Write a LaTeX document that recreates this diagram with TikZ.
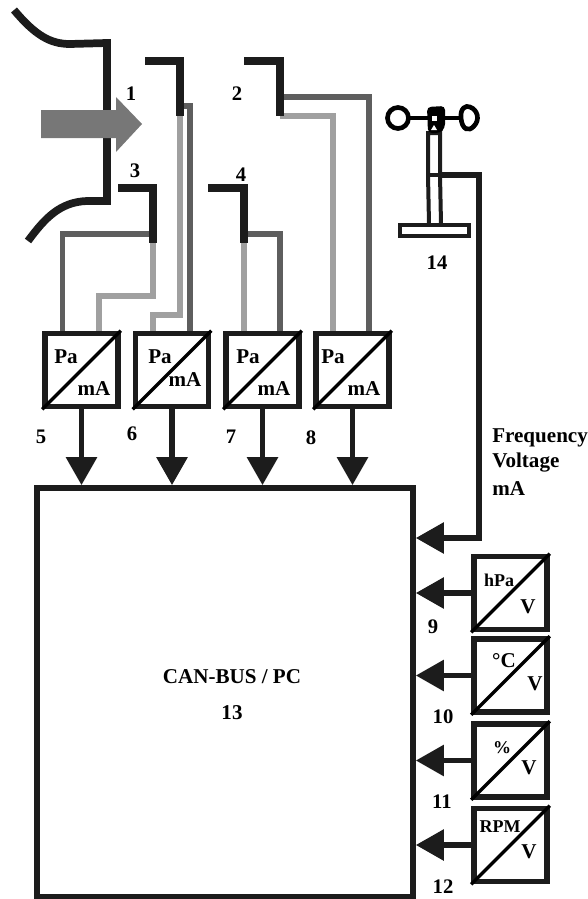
\documentclass[tikz,border=0pt]{standalone}
\usepackage{fontspec}
\setmainfont{Liberation Serif}
\usetikzlibrary{arrows.meta}
\definecolor{bardark}{HTML}{1C1C1C}
\definecolor{tapdark}{HTML}{5E5E5E}
\definecolor{taplight}{HTML}{A0A0A0}
\definecolor{flowgray}{HTML}{777777}
\tikzset{
    conv/.style={draw=bardark, line width=4.2pt, fill=white, rectangle, minimum size=54.75pt, inner sep=0pt},
    diag/.style={draw=black, line width=2.6pt},
    num/.style={font=\fontsize{15.5}{17}\selectfont\bfseries, inner sep=0pt},
    unit/.style={font=\fontsize{15.8}{18}\selectfont\bfseries, inner sep=0pt},
    smallunit/.style={font=\fontsize{13.5}{15}\selectfont\bfseries, inner sep=0pt},
    bar/.style={draw=bardark, line width=5.6pt},
    tapd/.style={draw=tapdark, line width=3.8pt},
    tapl/.style={draw=taplight, line width=3.8pt},
    sig/.style={draw=bardark, line width=4.2pt, -{Triangle[length=21pt,width=22.5pt]}}
}
\begin{document}
\begin{tikzpicture}[x=0.75pt, y=-0.75pt]
    \useasboundingbox (0,0) rectangle (588,899);

    \node[conv, minimum width=282pt, minimum height=306.75pt] (main) at (225,692.5) {};

    \node[conv] (p5) at (81.5,370) {};
    \node[conv] (p6) at (172,370) {};
    \node[conv] (p7) at (262.5,370) {};
    \node[conv] (p8) at (352.5,370) {};

    \node[conv] (s9) at (510.5,593) {};
    \node[conv] (s10) at (510.5,675.5) {};
    \node[conv] (s11) at (510.5,760.5) {};
    \node[conv] (s12) at (510.5,845) {};

    \draw[diag] (p5.south west) -- (p5.north east);
    \draw[diag] (p6.south west) -- (p6.north east);
    \draw[diag] (p7.south west) -- (p7.north east);
    \draw[diag] (p8.south west) -- (p8.north east);
    \draw[diag] (s9.south west) -- (s9.north east);
    \draw[diag] (s10.south west) -- (s10.north east);
    \draw[diag] (s11.south west) -- (s11.north east);
    \draw[diag] (s12.south west) -- (s12.north east);

    \draw[sig] (p5.south) -- (p5.south |- main.north);
    \draw[sig] (p6.south) -- (p6.south |- main.north);
    \draw[sig] (p7.south) -- (p7.south |- main.north);
    \draw[sig] (p8.south) -- (p8.south |- main.north);

    \draw[sig] (s9.west) -- (s9.west -| main.east);
    \draw[sig] (s10.west) -- (s10.west -| main.east);
    \draw[sig] (s11.west) -- (s11.west -| main.east);
    \draw[sig] (s12.west) -- (s12.west -| main.east);

    \coordinate (mast) at (440,175);
    \coordinate (wind) at (479,175);
    \coordinate (entry) at (479,538);
    \draw[sig] (mast) -- (wind) -- (entry) -- (entry -| main.east);

    \coordinate (t3a) at (153,234);
    \coordinate (t3b) at (153,243);
    \coordinate (t4a) at (244,234);
    \coordinate (t4b) at (244,243);
    \coordinate (t1a) at (180,106);
    \coordinate (t1b) at (180,116);
    \coordinate (t2a) at (280,97);
    \coordinate (t2b) at (280,116);

    \draw[tapd] (t3a) -- (62.5,234) -- (62.5,331);
    \draw[tapl] (t3b) -- (153,296) -- (99,296) -- (99,331);
    \draw[tapl] (t1b) -- (180,315) -- (153,315) -- (153,331);
    \draw[tapd] (t1a) -- (190,106) -- (190,331);
    \draw[tapl] (t4b) -- (244,331);
    \draw[tapd] (t4a) -- (280,234) -- (280,331);
    \draw[tapl] (t2b) -- (333,116) -- (333,331);
    \draw[tapd] (t2a) -- (369,97) -- (369,331);

    \draw[bar] (145,61) -- (180,61) -- (t1b);
    \draw[bar] (244,61) -- (280,61) -- (t2b);
    \draw[bar] (118,188) -- (153,188) -- (t3b);
    \draw[bar] (208,188) -- (244,188) -- (t4b);

    \draw[bar, line width=5.8pt] (14,10) .. controls (35,35) and (50,44) .. (70,44) -- (107,43) -- (107,112);
    \draw[bar, line width=5.8pt] (107,136) -- (107,201) -- (87,201) .. controls (60,202) and (45,218) .. (28,241);

    \fill[flowgray] (41,110) -- (116,110) -- (116,97) -- (142,124) -- (116,152) -- (116,138) -- (41,138) -- cycle;

    \draw[bardark, line width=3pt, fill=white] (400,225) rectangle (469,235.5);
    \draw[bardark, line width=3pt] (429,224) -- (428,175) -- (428,133) -- (440,133) -- (440,175) -- (441,224);
    \draw[bardark, line width=3pt] (428,175) -- (440,175);
    \draw[black, line width=2.6pt] (410,118) -- (460,118);
    \draw[black, line width=3.5pt] (398,118) circle (10.5);
    \draw[black, line width=3.5pt] (461,118) .. controls (460,108) and (466,105) .. (470,107) .. controls (478,110) and (480,120) .. (474,126) .. controls (469,132) and (462,130) .. (461,118);
    \fill[black, rounded corners=3pt] (427,107) -- (445,106) -- (445,128) -- (440,133) -- (428,133) -- cycle;
    \fill[white] (431.5,115.5) rectangle (436.5,120.5);
    \fill[white] (431,130) -- (434,125) -- (437,130) -- cycle;

    \node[num] (l1) at (131,94) {1};
    \node[num] (l2) at (237,94) {2};
    \node[num] (l3) at (135,171) {3};
    \node[num] (l4) at (241,175) {4};
    \node[num] (l5) at (41,437) {5};
    \node[num] (l6) at (132,434) {6};
    \node[num] (l7) at (231,437) {7};
    \node[num] (l8) at (311,438) {8};
    \node[num] (l9) at (433,627) {9};
    \node[num] (l10) at (443,717) {10};
    \node[num] (l11) at (442,802) {11};
    \node[num] (l12) at (443,887) {12};
    \node[num] (l14) at (437,263) {14};

    \node[unit] (pa5) at (66,357) {Pa};
    \node[unit] (ma5) at (94,389) {mA};
    \node[unit] (pa6) at (160,357) {Pa};
    \node[unit] (ma6) at (185,380) {mA};
    \node[unit] (pa7) at (248,357) {Pa};
    \node[unit] (ma7) at (274,389) {mA};
    \node[unit] (pa8) at (333,357) {Pa};
    \node[unit] (ma8) at (364,389) {mA};

    \node[smallunit] (u9) at (499,580) {hPa};
    \node[unit] (v9) at (528,607) {V};
    \node[unit] (u10) at (504,661) {°C};
    \node[unit] (v10) at (535,684) {V};
    \node[smallunit] (u11) at (502,748) {\%};
    \node[unit] (v11) at (529,768) {V};
    \node[smallunit] (u12) at (500,827) {RPM};
    \node[unit] (v12) at (529,852) {V};

    \node[unit, anchor=west] (freq) at (492,438) {Frequency};
    \node[unit, anchor=west] (volt) at (492,463) {Voltage};
    \node[unit, anchor=west] (ma) at (492,489) {mA};

    \node[unit] (can) at (232,677) {CAN-BUS / PC};
    \node[unit] (l13) at (232,713) {13};

\end{tikzpicture}
\end{document}
